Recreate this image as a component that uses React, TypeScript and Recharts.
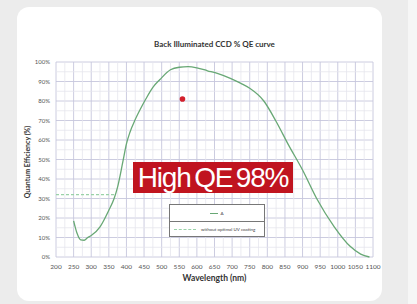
import { CartesianGrid, Line, LineChart, ReferenceDot, ReferenceLine, XAxis, YAxis } from 'recharts';

const WAVELENGTH = [250, 260, 270, 280, 290, 300, 325, 350, 365, 375, 390, 400, 410, 425, 440, 455, 475, 495, 525, 550, 575, 600, 630, 660, 695, 725, 750, 790, 825, 860, 900, 940, 990, 1035, 1065, 1090];
const QE = [18.5, 12, 8.8, 8.6, 10, 11, 15.5, 24, 30, 36, 49, 58, 64, 70.5, 76, 81, 87, 91, 96, 97.3, 97.6, 97, 95.5, 94, 91.6, 89, 86.5, 80, 69.5, 57.5, 44.6, 30, 15.5, 5.5, 1.5, 0];

const UV_WAVELENGTH = [200, 365];
const UV_QE = [32, 32];

const MARK_X = 559;
const MARK_Y = 81;

const X_TICKS = [200, 250, 300, 350, 400, 450, 500, 550, 600, 650, 700, 750, 800, 850, 900, 950, 1000, 1050, 1100];
const Y_TICKS = [0, 10, 20, 30, 40, 50, 60, 70, 80, 90, 100];
const X_MINOR = [225, 275, 325, 375, 425, 475, 525, 575, 625, 675, 725, 775, 825, 875, 925, 975, 1025, 1075];
const Y_MINOR = [5, 15, 25, 35, 45, 55, 65, 75, 85, 95];

const GREEN = '#68a875';
const FONT = 'Lato, "Open Sans", sans-serif';

const curve = WAVELENGTH.map((w, i) => ({ w, qe: QE[i] }));
const uv = UV_WAVELENGTH.map((w, i) => ({ w, qe: UV_QE[i] }));

export default function App() {
  return (
    <div style={{ position: 'fixed', left: 0, top: 0, width: 417, height: 304, background: '#ececec', overflow: 'hidden', fontFamily: FONT }}>
      <div style={{ position: 'absolute', left: 17, top: 7, width: 365, height: 294, background: '#fff', borderRadius: 12 }} />
      <div style={{ position: 'absolute', left: 408, top: 0, width: 9, height: 304, background: '#f6f6f6' }} />

      <div style={{ position: 'absolute', left: 56, width: 317, top: 39, textAlign: 'center', fontSize: 8, fontWeight: 700, color: '#333' }}>
        Back Illuminated CCD % QE curve
      </div>

      <div style={{ position: 'absolute', left: 0, top: 0 }}>
        <LineChart width={417} height={304} data={curve} margin={{ top: 62, right: 44, bottom: 0, left: 0 }}>
          {X_MINOR.map((v) => (
            <ReferenceLine key={'xm' + v} x={v} stroke="#e6e6ee" strokeWidth={0.8} />
          ))}
          {Y_MINOR.map((v) => (
            <ReferenceLine key={'ym' + v} y={v} stroke="#e6e6ee" strokeWidth={0.8} />
          ))}
          <CartesianGrid stroke="#c6c6dc" strokeWidth={0.9} />
          <XAxis
            dataKey="w"
            type="number"
            domain={[200, 1100]}
            ticks={X_TICKS}
            interval={0}
            tickLine={false}
            axisLine={false}
            tickSize={0}
            tickMargin={7}
            height={47}
            tick={{ fontSize: 6.5, fill: '#555', fontFamily: FONT }}
          />
          <YAxis
            type="number"
            domain={[0, 100]}
            ticks={Y_TICKS}
            interval={0}
            tickLine={false}
            axisLine={false}
            tickSize={0}
            tickMargin={6}
            width={56}
            tickFormatter={(v: number) => `${v}%`}
            tick={{ fontSize: 6, fill: '#555', fontFamily: FONT }}
          />
          <Line
            data={uv}
            dataKey="qe"
            type="linear"
            stroke="#9ad2a8"
            strokeWidth={1.2}
            strokeDasharray="3 2"
            dot={false}
            isAnimationActive={false}
          />
          <Line
            dataKey="qe"
            type="monotone"
            stroke={GREEN}
            strokeWidth={1.3}
            dot={false}
            isAnimationActive={false}
          />
          <ReferenceDot x={MARK_X} y={MARK_Y} r={2.8} fill="#d3202c" stroke="none" />
        </LineChart>
      </div>

      <div style={{ position: 'absolute', left: 0, top: 132, width: 56, height: 60 }}>
        <div style={{ position: 'absolute', left: 27, top: 30, transform: 'translate(-50%, -50%) rotate(-90deg)', whiteSpace: 'nowrap', fontSize: 7, fontWeight: 700, color: '#333' }}>
          Quantum Efficiency (%)
        </div>
      </div>

      <div style={{ position: 'absolute', left: 56, width: 317, top: 273, textAlign: 'center', fontSize: 8.5, fontWeight: 700, color: '#333' }}>
        Wavelength (nm)
      </div>

      <div style={{ position: 'absolute', left: 169, top: 204, width: 96, height: 33, border: '1px solid #777', background: '#fff', boxSizing: 'border-box' }}>
        <div style={{ height: 16, borderBottom: '1px solid #777', display: 'flex', alignItems: 'center', justifyContent: 'center', fontSize: 4.5, color: '#444' }}>
          <span style={{ display: 'inline-block', width: 8, borderTop: `1px solid ${GREEN}`, marginRight: 2 }} />A
        </div>
        <div style={{ height: 15, display: 'flex', alignItems: 'center', fontSize: 4.5, color: '#444', paddingLeft: 4 }}>
          <span style={{ display: 'inline-block', width: 22, borderTop: '1px dashed #9ad2a8', marginRight: 5 }} />
          without optimal UV coating
        </div>
      </div>

      <div style={{ position: 'absolute', left: 133, top: 162, width: 160, height: 31, background: '#c0141f', color: '#fff', fontFamily: '"Liberation Sans", Arial, sans-serif', fontSize: 28, lineHeight: '31px', textAlign: 'center', letterSpacing: -1.2, wordSpacing: -3 }}>
        High QE 98%
      </div>
    </div>
  );
}
